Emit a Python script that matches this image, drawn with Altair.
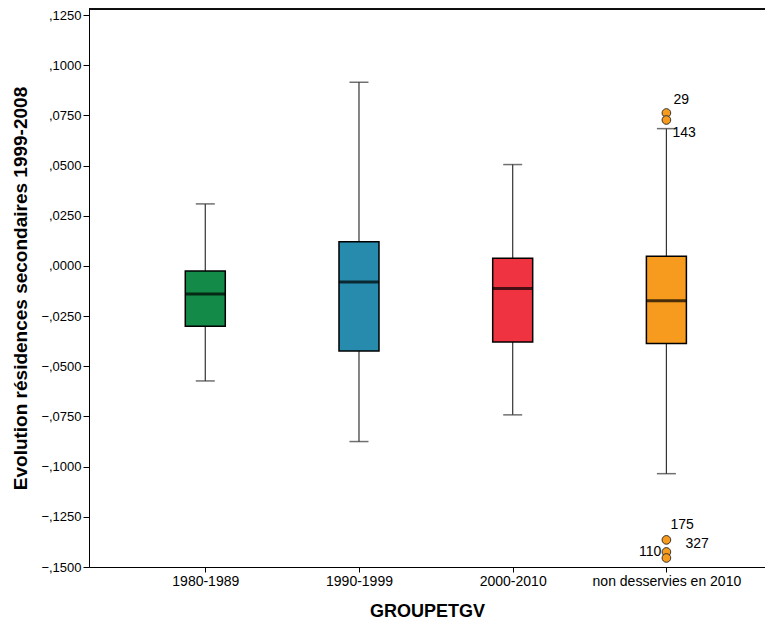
import altair as alt
import pandas as pd

groups = ["1980-1989", "1990-1999", "2000-2010", "non desservies en 2010"]
whisker_low = [-0.0573, -0.0875, -0.0742, -0.1035]
q1 = [-0.0300, -0.0424, -0.0379, -0.0387]
median = [-0.0140, -0.0080, -0.0113, -0.0174]
q3 = [-0.0025, 0.0120, 0.0038, 0.0048]
whisker_high = [0.0309, 0.0915, 0.0505, 0.0684]
colors = ["#138A48", "#268BAC", "#EF3340", "#F79B1E"]

outlier_group = ["non desservies en 2010"] * 5
outlier_values = [0.0762, 0.0727, -0.1365, -0.1425, -0.1455]
outlier_labels = ["29", "143", "175", "110", "327"]

y_ticks = [round(-0.15 + 0.025 * i, 4) for i in range(12)]

box = pd.DataFrame({
    "group": groups,
    "idx": list(range(len(groups))),
    "low": whisker_low, "q1": q1, "median": median, "q3": q3, "high": whisker_high,
    "color": colors,
})
out = pd.DataFrame({
    "group": outlier_group,
    "idx": [groups.index(g) for g in outlier_group],
    "value": outlier_values,
    "label": outlier_labels,
})

label_arr = "[" + ",".join("'" + g + "'" for g in groups) + "]"

W, H = 676, 558
xscale = alt.Scale(domain=[-0.724, 3.609], nice=False, zero=False)
yscale = alt.Scale(domain=[-0.150, 0.128], nice=False, zero=False)

font = "Liberation Sans"

x_axis = alt.Axis(
    title="GROUPETGV", values=list(range(len(groups))),
    labelExpr=label_arr + "[datum.value]",
    labelFontSize=14, labelFont=font, labelColor="#000",
    titleFontSize=18, titleFont=font, titleFontWeight="bold", titleColor="#000",
    titlePadding=14, tickSize=5, tickColor="#000", domainColor="#000",
    labelPadding=2, grid=False,
)
y_axis = alt.Axis(
    title="Evolution résidences secondaires 1999-2008", values=y_ticks,
    labelExpr="replace(format(datum.value, '.4f'), '0.', ',')",
    labelFontSize=13, labelFont=font, labelColor="#000",
    titleFontSize=19, titleFont=font, titleFontWeight="bold", titleColor="#000",
    titlePadding=10, tickSize=6, tickColor="#000", domainColor="#000",
    labelPadding=2, grid=False,
)

base = alt.Chart(box)

whisker = base.mark_rule(color="#333333", strokeWidth=1.2).encode(
    x=alt.X("idx:Q", scale=xscale, axis=x_axis),
    y=alt.Y("low:Q", scale=yscale, axis=y_axis),
    y2="high:Q",
)
top_frame = base.mark_rule(color="#000", strokeWidth=1).encode(
    x=alt.value(0), x2=alt.value(W), y=alt.value(0)
)
caps_low = base.mark_tick(color="#333333", size=19, thickness=1.5, orient="horizontal").encode(
    x="idx:Q", y="low:Q")
caps_high = base.mark_tick(color="#333333", size=19, thickness=1.5, orient="horizontal").encode(
    x="idx:Q", y="high:Q")
boxes = base.mark_bar(size=40, stroke="#000", strokeWidth=1.5).encode(
    x="idx:Q", y="q1:Q", y2="q3:Q",
    color=alt.Color("group:N", scale=alt.Scale(domain=groups, range=colors), legend=None),
)
med = base.mark_tick(color="#000", size=40, thickness=3, orient="horizontal").encode(
    x="idx:Q", y="median:Q")

obase = alt.Chart(out)
points = obase.mark_point(shape="circle", filled=True, size=75, fill="#F79B1E",
                          stroke="#222", strokeWidth=0.9, opacity=1).encode(
    x="idx:Q", y="value:Q")

def label_layer(lbl, dx, dy, align="left"):
    return obase.transform_filter(alt.datum.label == lbl).mark_text(
        align=align, baseline="middle", dx=dx, dy=dy, fontSize=14, font=font, color="#000"
    ).encode(x="idx:Q", y="value:Q", text="label:N")

labels = [
    label_layer("29", 7, -13),
    label_layer("143", 6, 13),
    label_layer("175", 4, -15),
    label_layer("110", -5, 0, "right"),
    label_layer("327", 19, -14),
]

chart = alt.layer(whisker, top_frame, caps_low, caps_high, boxes, med, points, *labels).properties(
    width=W, height=H,
    autosize=alt.AutoSizeParams(type="none"),
    padding={"left": 81, "top": 1, "right": 0, "bottom": 60},
).configure_view(stroke=None).configure(background="white")

chart.save("out.html", embed_options={"renderer": "svg", "actions": False})
